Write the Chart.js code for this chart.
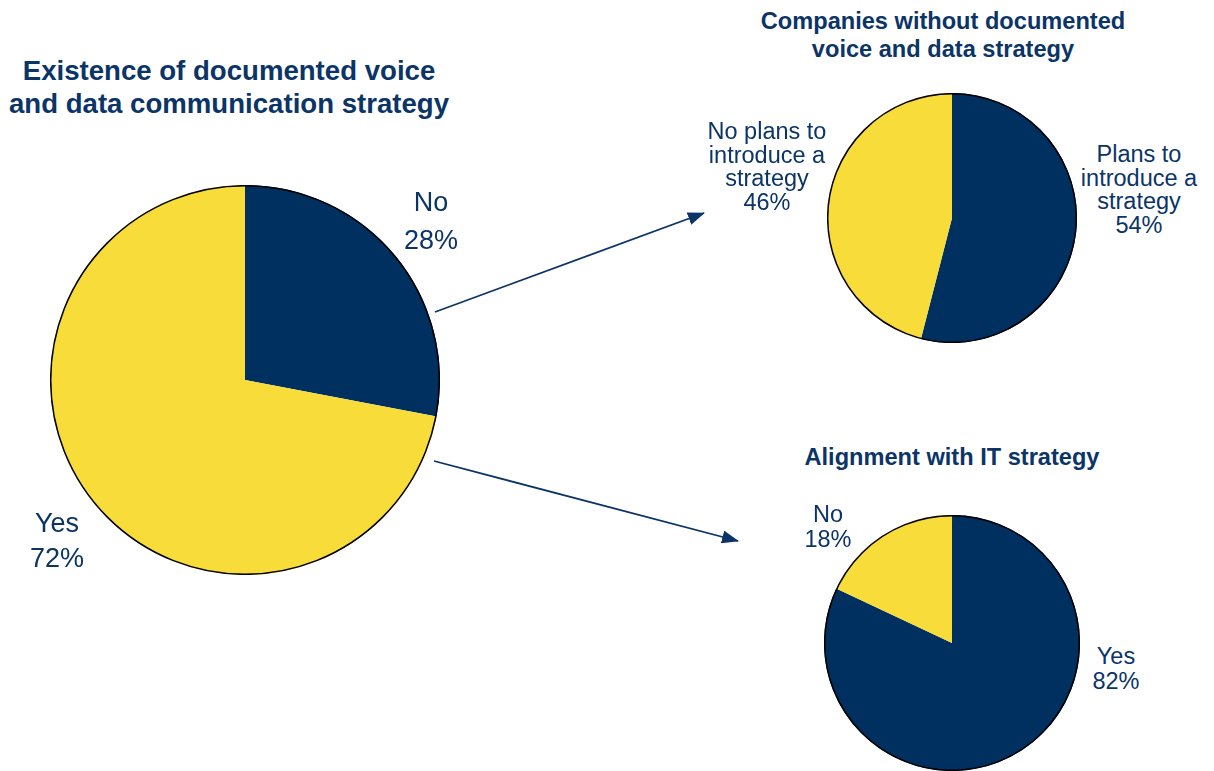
<!DOCTYPE html>
<html>
<head>
<meta charset="utf-8">
<script src="https://cdn.jsdelivr.net/npm/chart.js@4"></script>
<style>
  html,body{margin:0;padding:0;background:#fff;width:1214px;height:771px;overflow:hidden;font-family:"Liberation Sans",Arial,sans-serif;color:#0B3467;}
  .abs{position:absolute;}
  .t{position:absolute;text-align:center;white-space:nowrap;transform:translateX(-50%);}
  .title{font-weight:bold;}
  canvas{display:block;}
</style>
</head>
<body>
<div class="t title" id="mainTitle" style="left:229px;top:54px;font-size:27.6px;line-height:33px;"></div>
<div class="t title" id="topTitle" style="left:943px;top:7px;font-size:23.6px;line-height:28px;"></div>
<div class="t title" id="botTitle" style="left:952px;top:443px;font-size:23.6px;line-height:28px;"></div>

<div class="abs" style="left:50px;top:185px;width:390px;height:390px;"><canvas id="c1"></canvas></div>
<div class="abs" style="left:827px;top:93px;width:250px;height:250px;"><canvas id="c2"></canvas></div>
<div class="abs" style="left:824px;top:515px;width:256px;height:256px;"><canvas id="c3"></canvas></div>

<div id="labels"></div>

<svg class="abs" style="left:0;top:0" width="1214" height="771">
  <defs>
    <marker id="ah" markerWidth="17" markerHeight="13" refX="16" refY="6.5" orient="auto" markerUnits="userSpaceOnUse">
      <path d="M0,0 L17,6.5 L0,13 z" fill="#0B3467"/>
    </marker>
  </defs>
  <line x1="435" y1="312" x2="704" y2="213" stroke="#0B3467" stroke-width="1.8" marker-end="url(#ah)"/>
  <line x1="434" y1="461" x2="738" y2="541" stroke="#0B3467" stroke-width="1.8" marker-end="url(#ah)"/>
</svg>

<script>
// ---- data ----
const mainTitle = ["Existence of documented voice", "and data communication strategy"];
const mainLabels = ["No", "Yes"];
const mainValues = [28, 72];

const topTitle = ["Companies without documented", "voice and data strategy"];
const topLabels = ["Plans to introduce a strategy", "No plans to introduce a strategy"];
const topValues = [54, 46];

const botTitle = ["Alignment with IT strategy"];
const botLabels = ["Yes", "No"];
const botValues = [82, 18];

const NAVY = "#00305F";
const YELLOW = "#F7DC3A";

document.getElementById("mainTitle").innerHTML = mainTitle.join("<br>");
document.getElementById("topTitle").innerHTML = topTitle.join("<br>");
document.getElementById("botTitle").innerHTML = botTitle.join("<br>");

// label text and placement
const labelSpecs = [
  {lines: [mainLabels[0], mainValues[0] + "%"], x: 431, y: 183, size: 27, lh: 38},
  {lines: [mainLabels[1], mainValues[1] + "%"], x: 57, y: 506, size: 27, lh: 35},
  {lines: ["Plans to", "introduce a", "strategy", topValues[0] + "%"], x: 1139, y: 143, size: 23.5, lh: 23.5},
  {lines: ["No plans to", "introduce a", "strategy", topValues[1] + "%"], x: 767, y: 120, size: 23.5, lh: 23.5},
  {lines: [botLabels[0], botValues[0] + "%"], x: 1116, y: 644, size: 23.5, lh: 25},
  {lines: [botLabels[1], botValues[1] + "%"], x: 828, y: 502, size: 23.5, lh: 25}
];
const lbl = document.getElementById("labels");
labelSpecs.forEach(s => {
  const d = document.createElement("div");
  d.className = "t";
  d.style.left = s.x + "px";
  d.style.top = s.y + "px";
  d.style.fontSize = s.size + "px";
  d.style.lineHeight = s.lh + "px";
  d.innerHTML = s.lines.join("<br>");
  lbl.appendChild(d);
});

const outline = {
  id: "outline",
  afterDatasetsDraw(chart) {
    const arc = chart.getDatasetMeta(0).data[0];
    if (!arc) return;
    const ctx = chart.ctx;
    ctx.save();
    ctx.beginPath();
    ctx.arc(arc.x, arc.y, arc.outerRadius - 0.7, 0, Math.PI * 2);
    ctx.strokeStyle = "#000";
    ctx.lineWidth = 1.5;
    ctx.stroke();
    ctx.restore();
  }
};

function makePie(id, labels, values, colors) {
  new Chart(document.getElementById(id), {
    type: "pie",
    data: {labels, datasets: [{data: values, backgroundColor: colors, borderWidth: 0}]},
    options: {
      responsive: true, maintainAspectRatio: false, animation: false,
      layout: {padding: 0},
      plugins: {legend: {display: false}, tooltip: {enabled: false}, title: {display: false}}
    },
    plugins: [outline]
  });
}
makePie("c1", mainLabels, mainValues, [NAVY, YELLOW]);
makePie("c2", topLabels, topValues, [NAVY, YELLOW]);
makePie("c3", botLabels, botValues, [NAVY, YELLOW]);
</script>
</body>
</html>
